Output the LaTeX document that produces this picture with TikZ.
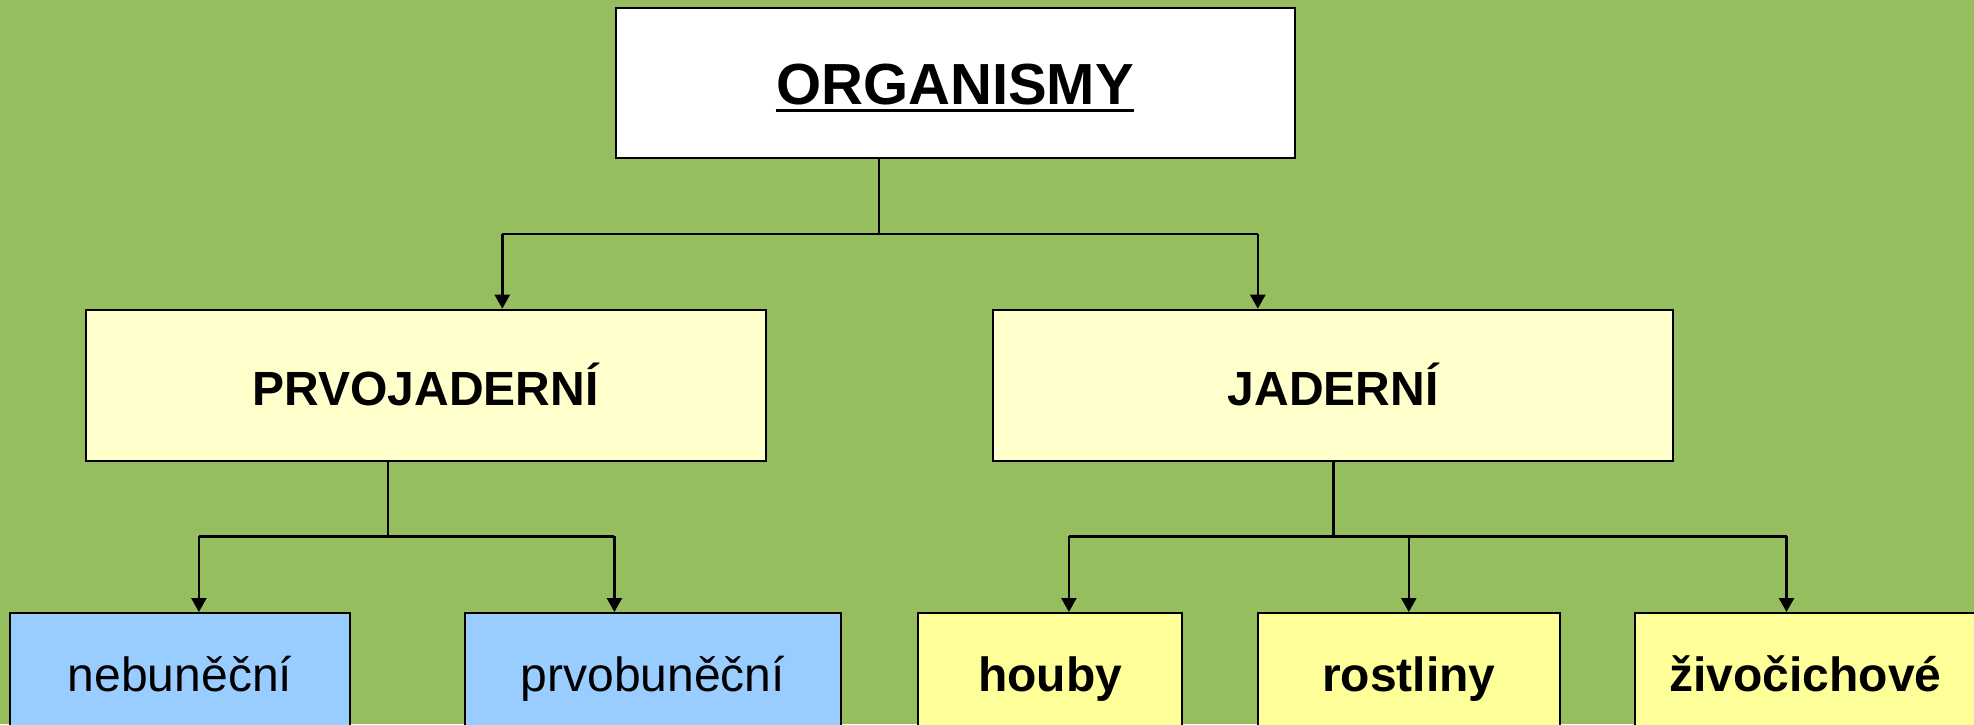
\documentclass[tikz,border=0pt]{standalone}
\usepackage{fontspec}
\setmainfont{Liberation Sans}
\usetikzlibrary{arrows.meta}
\definecolor{bggreen}{HTML}{96BE5F}
\definecolor{lightyel}{HTML}{FFFFCC}
\definecolor{yel}{HTML}{FFFF99}
\definecolor{lblue}{HTML}{99CCFF}
\begin{document}
\begin{tikzpicture}[x=0.5pt,y=-0.5pt,
  box/.style={draw=black,line width=1pt,inner sep=0pt,rectangle},
  topbox/.style={box,fill=white,minimum width=339.5pt,minimum height=75pt,
    font=\fontsize{29pt}{34pt}\selectfont\bfseries,text height=22pt,text depth=0pt},
  midbox/.style={box,fill=lightyel,minimum width=340pt,minimum height=75.5pt,
    font=\fontsize{24pt}{28pt}\selectfont\bfseries,text height=20pt,text depth=0pt},
  lowbox/.style={box,minimum height=75pt,anchor=north,
    font=\fontsize{24pt}{28pt}\selectfont,text height=12pt,text depth=9pt},
  ylow/.style={lowbox,fill=yel,font=\fontsize{24pt}{28pt}\selectfont\bfseries},
  blow/.style={lowbox,fill=lblue},
  conn/.style={draw=black,line width=1.2pt},
  arr/.style={conn,-{Triangle[length=7pt,width=7.5pt]}}]
\useasboundingbox (0,0) rectangle (1974,724);
\fill[bggreen] (0,0) rectangle (1974,724);
% nodes
\node[topbox] (org) at (955,82.5) {\phantom{ORGANISMY}};
\node[inner sep=0pt,anchor=base,font=\fontsize{29pt}{34pt}\selectfont\bfseries] (orgtxt) at (955,104.5) {ORGANISMY};
\draw[line width=1.5pt] ([yshift=-3pt]orgtxt.base west) -- ([yshift=-3pt]orgtxt.base east);
\node[midbox] (prv) at (425.5,385.2) {PRVOJADERNÍ};
\node[midbox] (jad) at (1333.3,385.2) {JADERNÍ};
\node[blow,minimum width=170pt] (neb) at (180,612) {nebuněční};
\node[blow,minimum width=188pt] (prvob) at (652.8,612) {prvobuněční};
\node[ylow,minimum width=132pt] (hou) at (1050,612) {houby};
\node[ylow,minimum width=151pt] (ros) at (1408.9,612) {rostliny};
\node[ylow,minimum width=170pt] (ziv) at (1805.4,612) {živočichové};
% connectors level 1
\coordinate (j1) at (878.8,234);
\coordinate (ja) at (502.3,234);
\coordinate (jb) at (1257.8,234);
\draw[conn] (org.south -| j1) -- (j1);
\draw[conn] (ja) -- (jb);
\draw[arr] (ja) -- (prv.north -| ja);
\draw[arr] (jb) -- (jad.north -| jb);
% connectors level 2 left
\coordinate (j2) at (387.8,536.3);
\coordinate (la) at (198.9,536.3);
\coordinate (lb) at (614.4,536.3);
\draw[conn] (prv.south -| j2) -- (j2);
\draw[conn] (la) -- (lb);
\draw[arr] (la) -- (neb.north -| la);
\draw[arr] (lb) -- (prvob.north -| lb);
% connectors level 2 right
\coordinate (j3) at (1333.3,536.3);
\coordinate (ra) at (1068.9,536.3);
\coordinate (rb) at (1408.8,536.3);
\coordinate (rc) at (1786.5,536.3);
\draw[conn] (jad.south) -- (j3);
\draw[conn] (ra) -- (rc);
\draw[arr] (ra) -- (hou.north -| ra);
\draw[arr] (rb) -- (ros.north -| rb);
\draw[arr] (rc) -- (ziv.north -| rc);
\end{tikzpicture}
\end{document}
